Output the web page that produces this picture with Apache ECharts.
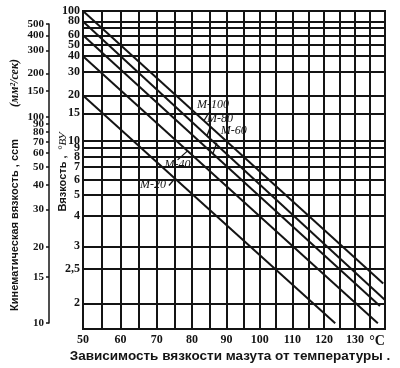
<!DOCTYPE html>
<html><head><meta charset="utf-8">
<script src="https://cdn.jsdelivr.net/npm/echarts@6/dist/echarts.min.js"></script>
<style>html,body{margin:0;padding:0;background:#fff}#c{width:400px;height:368px}</style>
</head><body><div id="c"></div>
<script>
// ---- data ----
const grades = ['M-100', 'M-80', 'M-60', 'M-40', 'M-20'];
const tStart = [50, 50, 50, 50, 50];            // °C
const vuStart = [100, 80, 60, 40, 20];          // °ВУ
const tEnd = [139.4, 140, 138.3, 137.6, 123.6]; // °C
const vuEnd = [2.26, 2.04, 1.97, 1.80, 1.80];   // °ВУ
const labelT = [83.4, 84.3, 86.0, 78.7, 75.1];  // where leader touches line
const tempTicks = [50,55,60,65,70,75,80,85,90,95,100,105,110,115,120,125,130,135,140];
const tempLabels = [50,60,70,80,90,100,110,120,130,140];
const vuGrid = [2,2.5,3,4,5,6,7,8,9,10,15,20,30,40,50,60,70,80,100];
const vuLabels = [2,2.5,3,4,5,6,7,8,9,10,15,20,30,40,50,60,80,100];
const cstLabels = [10,15,20,30,40,50,60,70,80,90,100,150,200,300,400,500];

// ---- scale transforms (Walther type chart) ----
const TK = 273.15;
const fx = t => Math.log10(t + TK);
const invX = v => Math.pow(10, v) - TK;
const nuFromVU = e => 7.31 * e - 6.31 / e;
const fnu = nu => Math.log10(Math.log10(nu + 0.8));
const fvu = e => fnu(nuFromVU(e));
const invNu = v => Math.pow(10, Math.pow(10, v)) - 0.8;
const vuFromNu = nu => (nu + Math.sqrt(nu * nu + 4 * 7.31 * 6.31)) / (2 * 7.31);

const ink = '#141414';
const serif = '"Liberation Serif", "DejaVu Serif", serif';
const sans = '"Liberation Sans", Arial, sans-serif';

const chart = echarts.init(document.getElementById('c'), null, {renderer: 'canvas'});

const series = grades.map((g, i) => ({
  name: g, type: 'line', xAxisIndex: 0, yAxisIndex: 0,
  data: [[fx(tStart[i]), fvu(vuStart[i])], [fx(tEnd[i]), fvu(vuEnd[i])]],
  showSymbol: false, symbol: 'none', silent: true, animation: false,
  lineStyle: {color: ink, width: 2}
}));

const yMax = fvu(100) + 1e-9;
const vuFmt = v => { const e = Math.round(vuFromNu(invNu(v)) * 10) / 10; return String(e).replace('.', ','); };
const yLab = {margin: 3, hideOverlap: false, formatter: vuFmt,
  color: ink, fontFamily: serif, fontWeight: 'bold', fontSize: 12};

chart.setOption({
  animation: false,
  backgroundColor: '#fff',
  grid: [
    {left: 83, top: 11, right: 15, bottom: 39, show: true, borderColor: ink, borderWidth: 2, backgroundColor: 'transparent'},
    {left: 49, top: 24, width: 1, bottom: 45, show: false}
  ],
  xAxis: [
    {type: 'value', gridIndex: 0, min: fx(50), max: fx(140),
     axisLine: {show: false},
     axisTick: {show: false, customValues: tempTicks.map(fx)},
     splitLine: {show: true, lineStyle: {color: ink, width: 2}},
     axisLabel: {customValues: tempLabels.map(fx), margin: 5, hideOverlap: false,
       formatter: v => { const t = Math.round(invX(v)); return t === 140 ? '{c|°C}' : String(t); },
       color: ink, fontFamily: serif, fontWeight: 'bold', fontSize: 12,
       rich: {c: {fontFamily: serif, fontWeight: 'bold', fontSize: 14, color: ink, padding: [0, 16, 0, 0]}}}},
    {type: 'value', gridIndex: 1, min: 0, max: 1, show: false}
  ],
  yAxis: [
    {type: 'value', gridIndex: 0, min: 0, max: yMax,
     axisLine: {show: false},
     axisTick: {show: false, customValues: vuGrid.map(fvu)},
     splitLine: {show: true, lineStyle: {color: ink, width: 2}},
     axisLabel: Object.assign({customValues: vuLabels.slice(0, -1).map(fvu)}, yLab)},
    {type: 'value', gridIndex: 1, min: fnu(10), max: fnu(500) + 1e-9, position: 'left',
     axisLine: {show: true, lineStyle: {color: ink, width: 1.5}},
     axisTick: {show: true, inside: false, length: 3, customValues: cstLabels.map(fnu), lineStyle: {color: ink, width: 1.5}},
     splitLine: {show: false},
     axisLabel: {customValues: cstLabels.map(fnu), margin: 5, hideOverlap: false,
       formatter: v => String(Math.round(invNu(v))),
       color: ink, fontFamily: serif, fontWeight: 'bold', fontSize: 11}},
    {type: 'value', gridIndex: 0, min: 0, max: yMax, position: 'left',
     axisLine: {show: false}, axisTick: {show: false, customValues: vuLabels.slice(-1).map(fvu)}, splitLine: {show: false},
     axisLabel: Object.assign({customValues: vuLabels.slice(-1).map(fvu)}, yLab)}
  ],
  series: series
});

// annotations positioned through the chart's own coordinate conversion
const leaders = [
  {dx: 5, dy: -8, tx: 9, ty: -16},
  {dx: 3, dy: -8, tx: 13, ty: -17},
  {dx: 4, dy: -11, tx: 21, ty: -23},
  {dx: -10, dy: 9, tx: -10, ty: 14},
  {dx: -6, dy: 7, tx: -22, ty: 6}
];
const g = [];
grades.forEach((name, i) => {
  const x0 = fx(tStart[i]), x1 = fx(tEnd[i]);
  const y0 = fvu(vuStart[i]), y1 = fvu(vuEnd[i]);
  const xa = fx(labelT[i]);
  const ya = y0 + (y1 - y0) * (xa - x0) / (x1 - x0);
  const p = chart.convertToPixel({gridIndex: 0}, [xa, ya]);
  const L = leaders[i];
  g.push({type: 'line', silent: true, shape: {x1: p[0], y1: p[1], x2: p[0] + L.dx, y2: p[1] + L.dy},
          style: {stroke: ink, lineWidth: 1.3}});
  g.push({type: 'text', silent: true, x: p[0] + L.tx, y: p[1] + L.ty,
          style: {text: name, font: 'italic 12px ' + serif, fill: ink, align: 'center', verticalAlign: 'middle'}});
});
g.push({type: 'text', silent: true, x: 230, y: 356,
  style: {text: 'Зависимость вязкости мазута от температуры .', font: 'bold 13.5px ' + sans, fill: ink, align: 'center', verticalAlign: 'middle'}});
g.push({type: 'text', silent: true, x: 15, y: 225, rotation: Math.PI / 2,
  style: {text: 'Кинематическая вязкость , ccm', font: 'bold 11px ' + sans, fill: ink, align: 'center', verticalAlign: 'middle'}});
g.push({type: 'text', silent: true, x: 15, y: 83, rotation: Math.PI / 2,
  style: {text: '(мм²/сек)', font: 'italic bold 12px ' + serif, fill: ink, align: 'center', verticalAlign: 'middle'}});
g.push({type: 'text', silent: true, x: 63, y: 172, rotation: Math.PI / 2,
  style: {text: '{a|Вязкость ,}{b|  °ВУ}', align: 'center', verticalAlign: 'middle',
    rich: {a: {font: 'bold 11px ' + sans, fill: ink}, b: {font: 'italic 11px ' + serif, fill: ink}}}});
chart.setOption({graphic: g});
</script>
</body></html>
